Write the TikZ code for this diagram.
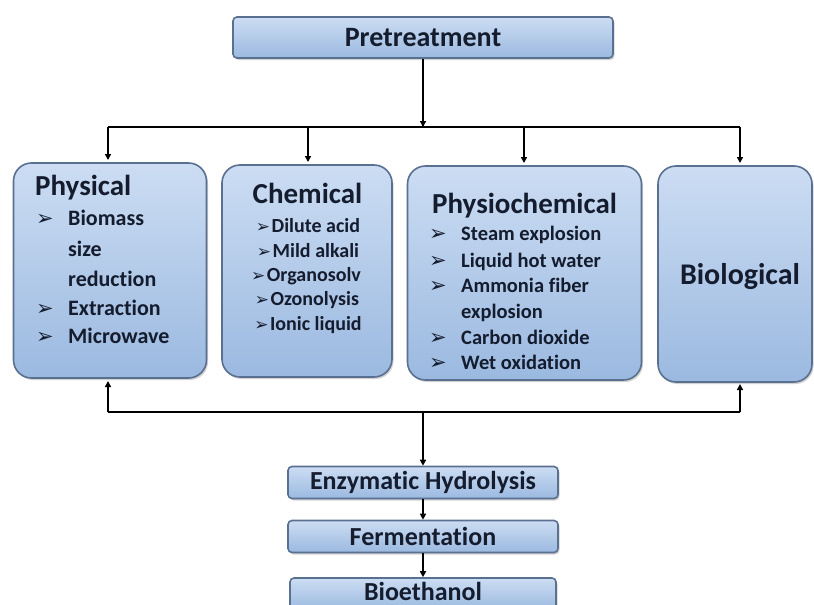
\documentclass[tikz,border=0pt]{standalone}
\usepackage{fontspec}
\setmainfont{Carlito}[Ligatures=NoCommon]
\newfontfamily\dv{DejaVu Sans}
\usetikzlibrary{arrows.meta,shadows}
\definecolor{boxtop}{HTML}{CCDDF3}
\definecolor{boxbot}{HTML}{9BB9E0}
\definecolor{boxline}{HTML}{5A7091}
\definecolor{txt}{HTML}{141C2E}
\begin{document}
\begin{tikzpicture}[x=1pt,y=-1pt,
  boxbase/.style={draw=boxline, line width=1.6pt, top color=boxtop, bottom color=boxbot,
    drop shadow={shadow xshift=1.5pt, shadow yshift=-2pt, fill=black!35}, text=txt, inner sep=0pt},
  bigbox/.style={boxbase, rounded corners=18pt},
  barbox/.style={boxbase, rounded corners=4pt, font=\fontsize{26}{30}\selectfont\bfseries},
  bartext/.style={text=txt, inner sep=0pt, font=\fontsize{26}{30}\selectfont\bfseries},
  title/.style={text=txt, font=\fontsize{29}{33}\selectfont\bfseries, inner sep=0pt, anchor=base west},
  item/.style={text=txt, font=\fontsize{22}{26}\selectfont\bfseries, inner sep=0pt, anchor=base west},
  citem/.style={text=txt, font=\fontsize{20}{23}\selectfont\bfseries, inner sep=0pt, anchor=base},
  pitem/.style={text=txt, font=\fontsize{20.5}{24}\selectfont\bfseries, inner sep=0pt, anchor=base west},
  bul/.style={text=txt, font=\dv\fontsize{21}{24}\selectfont, inner sep=0pt, anchor=base west},
  conn/.style={line width=1.6pt, black},
  arr/.style={conn, -{Triangle[length=6pt,width=6pt]}}
]
\useasboundingbox[fill=white] (0,0) rectangle (814,605);

% top box
\node[barbox, minimum width=380pt, minimum height=41pt, font=\fontsize{28}{32}\selectfont\bfseries] (pre) at (423,37.5) {Pretreatment};

% main boxes
\node[bigbox, minimum width=193pt, minimum height=215pt] (phys) at (110,270.5) {};
\node[bigbox, minimum width=170pt, minimum height=212pt] (chem) at (307,271) {};
\node[bigbox, minimum width=234pt, minimum height=214pt] (pchem) at (524.5,273) {};
\node[bigbox, minimum width=154pt, minimum height=216pt] (bio) at (735,274) {};

% bottom bars
\node[barbox, minimum width=270pt, minimum height=32pt] (enz) at (423,482.5) {Enzymatic Hydrolysis};
\node[barbox, minimum width=270pt, minimum height=32pt] (ferm) at (423,536.5) {Fermentation};
\node[barbox, minimum width=266pt, minimum height=32pt] (bioe) at (423,594) {};
\node[bartext, anchor=base] (bioeT) at (423,600) {Bioethanol};

% Physical text
\node[title] (phyT) at (35,195) {Physical};
\node[bul] (pb1) at (36,225) {➢};
\node[item] (pi1) at (68,225) {Biomass};
\node[item] (pi2) at (68,256) {size};
\node[item] (pi3) at (68,286) {reduction};
\node[bul] (pb4) at (36,315) {➢};
\node[item] (pi4) at (68,315) {Extraction};
\node[bul] (pb5) at (36,343) {➢};
\node[item] (pi5) at (68,343) {Microwave};

% Chemical text
\node[title, anchor=base] (chT) at (307.5,203) {Chemical};
\node[citem] (c1) at (308,232) {{\dv\fontsize{17}{18}\selectfont ➢}\kern1.5pt Dilute acid};
\node[citem] (c2) at (308,257) {{\dv\fontsize{17}{18}\selectfont ➢}\kern1.5pt Mild alkali};
\node[citem] (c3) at (306,281) {{\dv\fontsize{17}{18}\selectfont ➢}\kern1.5pt Organosolv};
\node[citem] (c4) at (307,305) {{\dv\fontsize{17}{18}\selectfont ➢}\kern1.5pt Ozonolysis};
\node[citem] (c5) at (308,330) {{\dv\fontsize{17}{18}\selectfont ➢}\kern1.5pt Ionic liquid};

% Physiochemical text
\node[title] (pcT) at (432,213) {Physiochemical};
\node[bul] (qb1) at (429,240) {➢};
\node[pitem] (q1) at (461,240) {Steam explosion};
\node[bul] (qb2) at (429,267) {➢};
\node[pitem] (q2) at (461,267) {Liquid hot water};
\node[bul] (qb3) at (429,292) {➢};
\node[pitem] (q3) at (461,292) {Ammonia fiber};
\node[pitem] (q4) at (461,318) {explosion};
\node[bul] (qb5) at (429,344) {➢};
\node[pitem] (q5) at (461,344) {Carbon dioxide};
\node[bul] (qb6) at (429,369) {➢};
\node[pitem] (q6) at (461,369) {Wet oxidation};

% Biological text
\node[title, anchor=center, font=\fontsize{30}{34}\selectfont\bfseries] (bioT) at (740,277) {Biological};

% connectors top
\coordinate (hub) at (423,127);
\coordinate (tl) at (108,127);
\coordinate (tr) at (740,127);
\draw[conn] (pre.south) -- (hub);
\draw[arr] (423,116) -- (hub);
\draw[conn] (tl) -- (tr);
\draw[arr] (tl) -- (108,160);
\draw[arr] (308,127) -- (308,162);
\draw[arr] (524,127) -- (524,163);
\draw[arr] (tr) -- (740,163);

% connectors bottom
\coordinate (bl) at (108,412);
\coordinate (br) at (740,412);
\coordinate (bhub) at (423,412);
\draw[conn] (bl) -- (br);
\draw[arr] (bl) -- (108,381);
\draw[arr] (br) -- (740,384);
\draw[arr] (bhub) -- (enz.north);
\draw[arr] (enz.south) -- (ferm.north);
\draw[arr] (ferm.south) -- (bioe.north);
\end{tikzpicture}
\end{document}
